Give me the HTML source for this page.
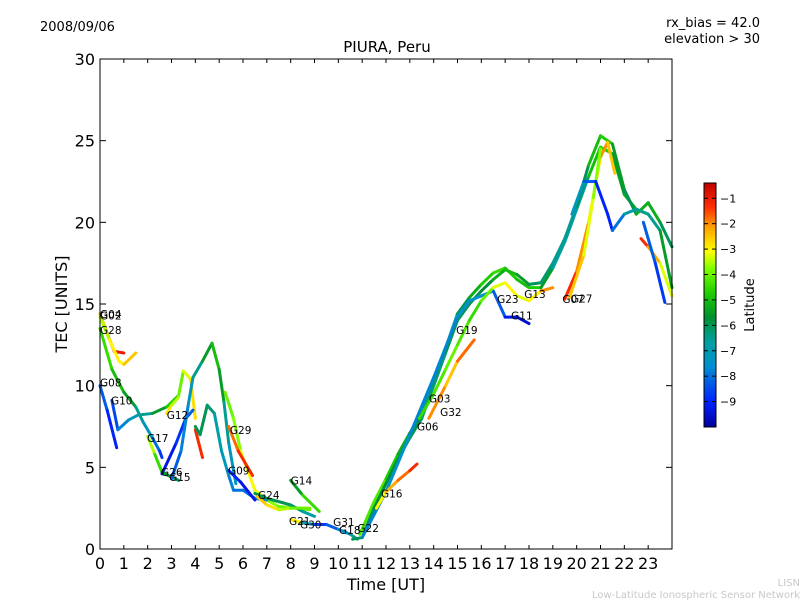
<!DOCTYPE html>
<html><head><meta charset="utf-8"><style>
body{margin:0;background:#fff;}
svg text{font-family:"DejaVu Sans","Liberation Sans",sans-serif;}
</style></head><body>
<svg id="chart" width="800" height="600" viewBox="0 0 800 600">
<defs>
<linearGradient id="cbar" x1="0" y1="1" x2="0" y2="0">
<stop offset="0" stop-color="#00009a"/><stop offset="0.1" stop-color="#0020ff"/>
<stop offset="0.25" stop-color="#0090d0"/><stop offset="0.35" stop-color="#00a0a0"/>
<stop offset="0.45" stop-color="#009030"/><stop offset="0.55" stop-color="#20d000"/>
<stop offset="0.65" stop-color="#80ff00"/><stop offset="0.72" stop-color="#ffff00"/>
<stop offset="0.82" stop-color="#ffa000"/><stop offset="0.9" stop-color="#ff3000"/>
<stop offset="1" stop-color="#c00000"/>
</linearGradient>
</defs>
<text x="40" y="31" font-size="13">2008/09/06</text>
<text x="760" y="27" font-size="13" text-anchor="end">rx_bias = 42.0</text>
<text x="760" y="43" font-size="13" text-anchor="end">elevation &gt; 30</text>
<text x="387" y="52" font-size="15" text-anchor="middle">PIURA, Peru</text>
<g id="marks"></g>
<g id="axes"></g>
<rect x="100" y="59" width="572" height="490" fill="none" stroke="#000" stroke-width="1"/>
<text x="386" y="590" font-size="16" text-anchor="middle">Time [UT]</text>
<text transform="translate(67,304) rotate(-90)" font-size="16" text-anchor="middle">TEC [UNITS]</text>
<rect x="704" y="183" width="12" height="244" fill="url(#cbar)" stroke="#000" stroke-width="1"/>
<g id="cbticks"></g>
<text transform="translate(754,305) rotate(-90)" font-size="13" text-anchor="middle">Latitude</text>
<text x="800" y="586" font-size="10" fill="#c8c8c8" text-anchor="end">LISN</text>
<text x="800" y="598" font-size="10" fill="#c8c8c8" text-anchor="end">Low-Latitude Ionospheric Sensor Network</text>
</svg>
<script>
const xTicks=[0,1,2,3,4,5,6,7,8,9,10,11,12,13,14,15,16,17,18,19,20,21,22,23];
const yTicks=[0,5,10,15,20,25,30];
const cbTicks=[-1,-2,-3,-4,-5,-6,-7,-8,-9];
// each track: [hour, tec, latitude]
const trackG04=[[0,14.4,-3],[0.3,13.2,-2],[0.6,12.1,-1],[1,12,-1]];
const trackG02=[[0,14.2,-4],[0.4,12.8,-3],[0.8,11.5,-3],[1,11.3,-3],[1.5,12,-2]];
const trackG28=[[0,13.5,-4],[0.5,11,-5],[1,9.6,-5],[1.5,8.7,-6],[1.8,7.8,-7],[2.2,6.8,-7.5],[2.5,6,-8.5],[2.6,5.6,-9]];
const trackG17=[[2,6.9,-3],[2.3,5.8,-4],[2.6,4.7,-5],[3,4.4,-6],[3.3,4.2,-6]];
const trackG08=[[0,10,-8],[0.3,8.5,-8.5],[0.7,6.2,-9.5]];
const trackG10=[[0.5,9.1,-9],[0.75,7.3,-8],[1.2,7.9,-7.5],[1.6,8.2,-7],[2.2,8.3,-6],[2.8,8.7,-5],[3.3,9.4,-4.5],[3.5,10.9,-3.5],[3.8,10.4,-3],[4.0,8,-2.5]];
const trackG12=[[2.8,8.3,-2.5],[3.0,8.8,-3],[3.3,9.3,-4]];
const trackG12b=[[4.0,7.3,-1.5],[4.3,5.6,-1]];
const trackG26=[[2.6,4.6,-9.5],[3.2,6.5,-9],[3.6,8,-8.5],[3.9,8.5,-8]];
const trackG15=[[3.0,4.3,-8.5],[3.4,6,-8],[3.7,8.8,-7.5],[3.9,10.5,-7],[4.3,11.5,-6],[4.7,12.6,-5],[5.0,11,-5],[5.2,9,-6],[5.4,6.5,-7],[5.7,4,-7.5]];
const trackG29=[[5.25,9.6,-4],[5.6,8,-4],[5.9,6,-3.5],[6.2,4.8,-3],[6.5,3.6,-3],[7,3,-3.5],[7.5,2.6,-4],[8.2,2.5,-4],[8.8,2.4,-4]];
const trackG29r=[[5.4,7.5,-2],[5.8,6,-1.5],[6.4,4.5,-1]];
const trackZig=[[4,7.5,-6],[4.2,7,-6],[4.5,8.8,-6],[4.8,8.3,-6.5],[5.1,6,-7],[5.4,4.5,-7.5],[5.6,3.6,-8],[6,3.6,-8],[6.5,3.1,-8],[7,3.0,-7.5]];
const trackG09=[[5.4,4.8,-9],[5.9,4.1,-9],[6.5,3,-9.5]];
const trackG24=[[6.5,3.4,-6],[7,3.1,-6],[7.5,2.9,-6],[8,2.7,-6],[8.5,2.3,-6.5],[9,2.0,-7]];
const trackG24b=[[6.6,3.2,-2.5],[7,2.7,-2.5],[7.5,2.4,-3],[8,2.5,-4],[8.8,2.5,-4]];
const trackG14=[[8,4.2,-6],[8.5,3.3,-5],[9.2,2.3,-4]];
const trackG21=[[8,1.8,-1],[8.5,1.6,-5],[9,1.5,-9],[9.5,1.5,-8.5],[10,1.2,-8],[10.5,0.9,-7],[10.8,0.6,-6]];
const trackMain=[[10.6,0.6,-6],[11,0.7,-6],[11.5,2.5,-6],[12,4,-5.5],[12.5,5.5,-6],[13,6.8,-6],[13.5,8,-6],[14,10,-6.5],[14.5,12,-6],[15,14,-6],[15.5,15,-6],[16,15.8,-6],[16.5,16.5,-5.5],[17,17.1,-5],[17.5,16.8,-5],[18,16.2,-6],[18.5,16.3,-6],[19,17.5,-6.5],[19.5,19,-6.5],[20,21,-6.5],[20.5,23.5,-5.5],[21,25.3,-4.5],[21.5,24.8,-5],[22,22,-6],[22.5,20.5,-6],[23,21.2,-4.5],[23.5,20,-6],[24,18.5,-6]];
const trackG06=[[10.9,0.9,-4.5],[11.5,2.9,-4],[12,4.3,-4.5],[12.5,5.8,-5],[13,7.1,-5.5],[13.5,8.3,-6],[14,10.3,-7],[14.5,12.3,-7],[15,14.4,-6.5],[15.5,15.4,-5.5],[16,16.2,-5],[16.5,16.9,-4.5],[17,17.2,-4.5],[17.5,16.5,-5],[18,16,-5],[18.5,16,-4.5],[19,17.2,-6.5],[19.5,18.8,-7],[20,20.8,-7],[20.5,22.8,-6],[21,24.6,-4],[21.5,24.2,-5.5],[22,21.7,-5.5],[22.5,20.8,-5],[23,20.5,-6],[23.5,19.5,-7],[24,16,-4]];
const trackG11=[[11,0.7,-8],[12,3.5,-7.5],[13,7,-7.5],[14,10.5,-8],[15,14.2,-7.5],[15.5,15.2,-7.5],[16,15.5,-7.5],[16.5,15.8,-7.5],[17,14.2,-9],[17.5,14.2,-9.5],[18,13.8,-9.5]];
const trackG19=[[13.4,8,-4.5],[14,9.5,-4.5],[14.5,11,-4],[15,12.5,-4],[15.5,14,-4.5],[16,15.2,-4.5],[16.5,16,-3.5],[17,16.3,-3],[17.5,15.5,-3],[18,15.2,-3.5],[18.5,15.8,-2.5],[19,16,-1.5]];
const trackG32=[[13.8,8,-1.5],[14.5,10,-2.5],[15,11.5,-2.5],[15.7,12.8,-1]];
const trackG16=[[11.6,2.5,-3.5],[12,3.5,-2.5],[12.5,4.2,-2],[13,4.8,-1.5],[13.3,5.2,-1]];
const trackG07=[[19.5,15.3,-1],[20,17,-1.5],[20.5,20,-2.5],[21,24,-3],[21.3,24.9,-1],[21.6,23,-4]];
const trackG27=[[19.7,15.4,-2],[20.3,18,-3],[20.7,21.5,-3.5],[21,24.5,-4]];
const trackBlue=[[19.8,20.5,-7],[20.3,22.5,-7.5],[20.8,22.5,-9],[21.3,20.5,-9],[21.5,19.5,-9],[22,20.5,-7],[22.5,20.8,-6.5],[23,20.5,-6.5]];
const trackR1=[[22.7,19,-1],[23,18.5,-1.5],[23.5,17.5,-3],[24,15.5,-3.5]];
const trackR2=[[22.8,20,-8],[23.3,17.5,-8.5],[23.7,15.1,-9]];
const tracks=[trackG04,trackG02,trackG28,trackG17,trackG08,trackG10,trackG12,trackG12b,trackG26,trackG15,trackG29,trackG29r,trackZig,trackG09,trackG24,trackG24b,trackG14,trackG21,trackG06,trackMain,trackG11,trackG19,trackG32,trackG16,trackG07,trackG27,trackBlue,trackR1,trackR2];
const prnNames=["G04","G02","G28","G08","G10","G12","G17","G26","G15","G29","G09","G24","G14","G21","G30","G31","G18","G22","G16","G06","G03","G32","G19","G23","G11","G13","G07","G27"];
const prnHours=[0,0,0,0,0.46,2.8,1.97,2.56,2.9,5.45,5.37,6.63,8.0,7.93,8.39,9.78,10.03,10.8,11.79,13.3,13.8,14.27,14.94,16.66,17.25,17.8,19.4,19.76];
const prnTec=[14.4,14.3,13.4,10.2,9.1,8.2,6.8,4.7,4.4,7.3,4.8,3.3,4.2,1.7,1.5,1.65,1.16,1.3,3.4,7.5,9.2,8.4,13.4,15.3,14.3,15.6,15.3,15.35];

const X=h=>100+h*572/24, Y=v=>549-v*490/30, CB=l=>183+(-0.4-l)*244/9.6;
const stops=[[0,[0,0,154]],[0.1,[0,32,255]],[0.25,[0,144,208]],[0.35,[0,160,160]],[0.45,[0,144,48]],[0.55,[32,208,0]],[0.65,[128,255,0]],[0.72,[255,255,0]],[0.82,[255,160,0]],[0.9,[255,48,0]],[1,[192,0,0]]];
function col(lat){let t=(lat+10)/9.6;t=Math.max(0,Math.min(1,t));for(let i=1;i<stops.length;i++){if(t<=stops[i][0]){const a=stops[i-1],b=stops[i],f=(t-a[0])/(b[0]-a[0]);return 'rgb('+a[1].map((c,k)=>Math.round(c+(b[1][k]-c)*f)).join(',')+')';}}return 'rgb(192,0,0)';}
const NS='http://www.w3.org/2000/svg';
function mk(tag,attrs,parent){const e=document.createElementNS(NS,tag);for(const k in attrs)e.setAttribute(k,attrs[k]);parent.appendChild(e);return e;}
const marks=document.getElementById('marks');
tracks.forEach((tr,ti)=>{
  for(let i=1;i<tr.length;i++){
    const a=tr[i-1],b=tr[i];
    const s=mk('line',{x1:X(a[0]),y1:Y(a[1]),x2:X(b[0]),y2:Y(b[1]),stroke:col((a[2]+b[2])/2),'stroke-width':3,'stroke-linecap':'round'},marks);
    
    
  }
});
prnNames.forEach((n,i)=>{
  const t=mk('text',{x:X(prnHours[i]),y:Y(prnTec[i])+4,'font-size':10.5},marks);
  t.textContent=n;
  
  
});
const axes=document.getElementById('axes');
xTicks.forEach(h=>{
  const x=X(h);
  mk('line',{x1:x,y1:549,x2:x,y2:545,stroke:'#000'},axes);
  mk('line',{x1:x,y1:59,x2:x,y2:63,stroke:'#000'},axes);
  const t=mk('text',{x:x,y:569,'font-size':16,'text-anchor':'middle'},axes);
  t.textContent=h;
  
  
});
yTicks.forEach(v=>{
  const y=Y(v);
  mk('line',{x1:100,y1:y,x2:106,y2:y,stroke:'#000'},axes);
  mk('line',{x1:672,y1:y,x2:666,y2:y,stroke:'#000'},axes);
  const t=mk('text',{x:95,y:y+6,'font-size':16,'text-anchor':'end'},axes);
  t.textContent=v;
  
  
});
const cbt=document.getElementById('cbticks');
cbTicks.forEach(l=>{
  const y=CB(l);
  mk('line',{x1:704,y1:y,x2:708,y2:y,stroke:'#000'},cbt);
  mk('line',{x1:716,y1:y,x2:712,y2:y,stroke:'#000'},cbt);
  const t=mk('text',{x:720,y:y+4,'font-size':11},cbt);
  t.textContent='\u2212'+(-l);
  
  
});
</script>
</body></html>
